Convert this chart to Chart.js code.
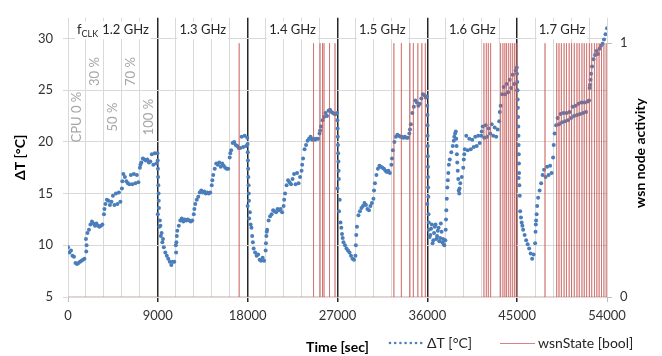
<!DOCTYPE html>
<html lang="en">
<head>
<meta charset="UTF-8">
<title>ΔT and wsn node activity</title>
<script src="https://cdn.jsdelivr.net/npm/chart.js"></script>
<style>
  html, body { margin: 0; padding: 0; background: #fff; }
</style>
</head>
<body>
<canvas id="tempChart" width="662" height="356"></canvas>
<script>
// ΔT [°C], one reading every 150 s (0 ... 54000 s)
const sampleStep = 150;
const deltaT = [
  // 1.2 GHz
  9.8, 9.3, 9.5, 9.0, 8.9, 8.3, 8.2, 8.3, 8.4, 8.5, 8.6, 8.7,
  10.6, 11.2, 11.5, 12.0, 12.3, 12.1, 11.9, 12.1, 11.9, 11.8, 11.9, 12.0,
  13.0, 14.0, 14.4, 14.3, 13.9, 14.2, 14.8, 13.9, 15.0, 14.0, 15.1, 14.2,
  15.5, 16.9, 16.6, 16.2, 16.0, 15.9, 16.8, 15.9, 16.9, 16.0, 16.8, 16.1,
  17.5, 18.0, 18.4, 18.3, 18.2, 18.3, 18.0, 18.1, 18.8, 17.8, 18.9, 17.9,
  // 1.3 GHz
  13.0, 11.8, 10.9, 10.3, 9.8, 9.3, 9.0, 8.7, 8.4, 8.1, 8.4, 8.4,
  10.0, 11.4, 11.9, 12.4, 12.6, 12.3, 12.5, 12.4, 12.5, 12.4, 12.3, 12.4,
  13.0, 14.0, 14.4, 14.7, 15.1, 15.3, 15.1, 15.2, 15.0, 15.1, 15.0, 15.1,
  15.8, 16.8, 17.4, 17.9, 17.8, 18.0, 17.6, 17.9, 17.7, 17.5, 17.4, 17.4,
  18.5, 19.2, 19.9, 20.0, 19.7, 19.6, 19.4, 19.4, 20.5, 19.5, 20.6, 19.6,
  // 1.4 GHz
  13.8, 12.6, 12.0, 10.9, 9.7, 9.3, 9.0, 9.1, 8.6, 8.5, 8.8, 8.5,
  9.5, 11.5, 12.4, 12.8, 13.0, 13.4, 13.3, 13.2, 13.5, 13.4, 13.5, 13.2,
  13.8, 15.0, 15.8, 16.3, 16.1, 15.9, 16.4, 16.9, 15.9, 17.0, 16.0, 16.6,
  17.2, 18.4, 19.3, 19.7, 20.1, 20.3, 20.5, 20.2, 20.3, 20.2, 20.3, 20.3,
  20.8, 21.5, 22.1, 22.4, 22.8, 22.5, 23.0, 23.1, 22.9, 22.8, 22.7, 22.7,
  // 1.5 GHz
  15.5, 13.3, 12.2, 11.1, 10.3, 10.0, 9.7, 9.5, 9.3, 9.0, 8.7, 8.6,
  9.0, 11.8, 12.9, 13.3, 13.6, 13.8, 14.1, 13.9, 13.5, 13.4, 13.8, 14.1,
  14.5, 16.0, 16.8, 17.4, 17.7, 17.6, 17.5, 17.4, 17.2, 17.1, 17.2, 17.0,
  17.8, 19.2, 20.0, 20.5, 20.7, 20.6, 20.5, 20.5, 20.4, 20.5, 20.4, 20.4,
  20.8, 21.7, 22.8, 23.4, 24.0, 23.8, 23.5, 23.7, 24.2, 24.6, 24.5, 24.3,
  // 1.6 GHz
  14.0, 11.5, 11.0, 12.0, 10.5, 11.8, 10.6, 11.4, 10.4, 12.1, 10.3, 10.1,
  10.5, 14.5, 17.0, 18.3, 19.0, 19.6, 20.5, 21.0, 18.0, 15.3, 16.0, 16.6,
  17.5, 19.3, 20.6, 19.2, 20.3, 19.3, 20.2, 19.5, 20.5, 19.6, 20.6, 19.9,
  20.6, 21.5, 20.4, 21.6, 20.5, 21.3, 20.8, 21.7, 20.6, 21.4, 20.5, 21.2,
  22.0, 23.5, 24.6, 25.3, 24.6, 25.6, 24.8, 26.0, 25.2, 26.5, 25.6, 26.9,
  // 1.7 GHz
  25.0, 16.5, 13.3, 12.2, 11.5, 11.0, 10.5, 10.1, 9.7, 9.2, 8.7, 9.1,
  10.2, 13.0, 14.6, 15.3, 16.0, 16.8, 17.3, 16.6, 17.6, 16.8, 17.7, 17.0,
  18.5, 20.8, 21.6, 22.3, 21.7, 22.7, 21.9, 22.8, 22.0, 22.8, 22.1, 22.9,
  22.3, 23.4, 22.5, 23.5, 22.6, 23.7, 22.7, 23.8, 22.8, 23.8, 22.9, 23.9,
  24.0, 26.0, 27.3, 28.0, 28.4, 28.8, 28.5, 29.0, 29.3, 29.5, 29.9, 30.4,
  31.0
];

// extra readings on the steep edges and in the noisy bands
const edgeTime = [
  8960, 8990, 9010, 9030, 9050, 9070, 9090, 9110, 9200, 9260, 9380, 9520,
  17960, 17990, 18010, 18030, 18050, 18070, 18090, 18110, 18130, 18220, 18380, 18520,
  26960, 26990, 27010, 27030, 27050, 27070, 27090, 27110, 27130, 27220, 27380, 27520,
  35960, 35990, 36010, 36020, 36030, 36040, 36050, 36060, 36070, 36080, 36100, 36120, 36140,
  44960, 44980, 45010, 45030, 45050, 45070, 45090, 45110, 45130, 45145, 45160, 45175, 45190, 45220, 45260, 45380, 45520,
  1830, 1860, 3650, 5440, 7260, 10830, 10860, 10900, 12660, 14460, 16260,
  19830, 19870, 19910, 21660, 23460, 25260, 28840, 28880, 30660, 32460, 34260,
  37840, 37870, 37900, 38000, 38050, 38160, 38650, 38780, 38900, 38930, 38960, 39050, 39100, 39200, 39230,
  39650, 39700, 41450, 43260,
  36225, 36375, 36525, 36675, 36825, 36975, 37125, 37275, 37425, 37575, 37700,
  46840, 46870, 46900, 47000, 48660, 52260, 52290, 52400
];
const edgeT = [
  18.9, 18.2, 17.4, 16.6, 15.8, 15.0, 14.3, 13.6, 12.4, 11.9, 11.2, 10.6,
  20.4, 19.8, 19.0, 18.2, 17.4, 16.6, 15.8, 15.0, 14.3, 13.2, 11.7, 10.3,
  22.8, 22.1, 21.3, 20.5, 19.7, 18.9, 18.1, 17.2, 16.4, 14.4, 11.7, 10.7,
  24.4, 23.5, 22.6, 21.6, 20.6, 19.6, 18.6, 17.6, 16.6, 15.6, 14.7, 13.0, 12.2,
  27.2, 26.6, 25.8, 25.0, 24.1, 23.3, 22.4, 21.5, 20.6, 19.7, 18.8, 17.9, 17.0, 15.8, 14.8, 12.7, 11.9,
  9.4, 10.0, 13.5, 16.2, 17.8, 9.3, 10.3, 10.9, 13.5, 16.3, 18.9,
  10.2, 10.9, 11.3, 14.4, 17.8, 21.1, 10.0, 11.0, 15.3, 18.4, 21.2,
  11.5, 12.5, 13.4, 15.6, 16.3, 17.8, 20.1, 20.8, 20.3, 19.6, 18.8, 17.2, 16.4, 15.0, 15.5,
  18.3, 18.8, 21.0, 22.9,
  10.8, 11.6, 10.2, 11.2, 12.0, 10.9, 11.7, 10.7, 11.3, 10.6, 10.0,
  11.3, 12.0, 12.4, 13.8, 19.7, 25.2, 25.5, 26.6
];

// moments when the wsn node was active (s)
const wsnOnTimes = [
  17150,
  24600, 25250, 25500, 25650, 26200, 26750,
  32650, 33400, 34250, 34600, 35050, 35450, 35800,
  41670, 41910, 42110, 42340, 43340, 43570, 43770, 43940, 44150, 44350, 44550, 44750, 44920,
  47790, 48960, 49190, 49430, 49700, 49940, 50210, 50450, 50720, 50990, 51220, 51490,
  51720, 51960, 52230, 52470, 52740, 52980, 53210, 53450, 53690, 53920
];

const freqLabels = ['1.2 GHz', '1.3 GHz', '1.4 GHz', '1.5 GHz', '1.6 GHz', '1.7 GHz'];
const cpuLabels = ['CPU 0 %', '30 %', '50 %', '70 %', '100 %'];
const timeTicks = [0, 9000, 18000, 27000, 36000, 45000, 54000];
const tempTicks = [5, 10, 15, 20, 25, 30];
const activityTicks = [0, 1];

const periodLen = 9000;
const loadStep = 1800;
const FONT = 'Lato, "Open Sans", sans-serif';
const BLUE = '#4a7ebb';
const RED = 'rgba(200, 90, 87, 0.75)';
const GRID = '#d9d9d9';
const DARK = '#262626';

const tempPoints = deltaT.map((v, i) => ({ x: i * sampleStep, y: v }));
edgeTime.forEach((t, i) => tempPoints.push({ x: t, y: edgeT[i] }));

const wsnPoints = [{ x: 0, y: 0 }];
wsnOnTimes.forEach(t => {
  wsnPoints.push({ x: t, y: 0 }, { x: t, y: 1 }, { x: t, y: 0 });
});
wsnPoints.push({ x: 54000, y: 0 });

const gridTimes = [];
for (let t = 0; t <= 54000; t += loadStep) gridTimes.push(t);
const isInnerEdge = v => v % periodLen === 0 && v > 0 && v < 54000;

// free text: frequency headers, CPU load labels, right title, legend
const notes = {
  id: 'notes',
  afterDatasetsDraw(chart) {
    const c = chart.ctx;
    const xs = chart.scales.x;
    const yt = chart.scales.yTemp;
    c.save();

    // frequency headers
    const fy = yt.getPixelForValue(30.8);
    freqLabels.forEach((lab, i) => {
      const cx = xs.getPixelForValue(i * periodLen + periodLen / 2);
      c.font = '13px ' + FONT;
      const w = c.measureText(lab).width;
      let pre = 0, subW = 0, fW = 0;
      if (i === 0) {
        fW = c.measureText('f').width;
        c.font = '9px ' + FONT;
        subW = c.measureText('CLK').width;
        pre = fW + subW + 4;
      }
      const total = pre + w;
      let x0 = cx - total / 2;
      c.fillStyle = '#fff';
      c.fillRect(x0 - 2, fy - 9, total + 4, 18);
      c.fillStyle = DARK;
      c.textBaseline = 'middle';
      c.textAlign = 'left';
      if (i === 0) {
        c.font = '13px ' + FONT;
        c.fillText('f', x0, fy);
        c.font = '9px ' + FONT;
        c.fillText('CLK', x0 + fW, fy + 4);
        x0 += pre;
      }
      c.font = '13px ' + FONT;
      c.fillText(lab, x0, fy);
    });

    // CPU load labels in the first period
    c.fillStyle = '#a6a6a6';
    c.font = '13px ' + FONT;
    c.textAlign = 'center';
    cpuLabels.forEach((lab, i) => {
      const cx = xs.getPixelForValue(i * loadStep + loadStep / 2);
      const cy = yt.getPixelForValue(i % 2 === 0 ? 22.4 : 26.8);
      c.save();
      c.translate(cx, cy);
      c.rotate(-Math.PI / 2);
      c.fillText(lab, 0, 0);
      c.restore();
    });

    // right axis title, reading upwards
    c.fillStyle = '#000';
    c.font = 'bold 14px ' + FONT;
    c.save();
    c.translate(640, 153);
    c.rotate(-Math.PI / 2);
    c.fillText('wsn node activity', 0, 0);
    c.restore();

    // legend
    const ly = 343;
    c.fillStyle = BLUE;
    for (let k = 0; k < 7; k++) {
      c.beginPath();
      c.arc(390 + k * 5.2, ly, 1.3, 0, Math.PI * 2);
      c.fill();
    }
    c.strokeStyle = RED;
    c.lineWidth = 1;
    c.beginPath();
    c.moveTo(500, ly + 0.5);
    c.lineTo(535, ly + 0.5);
    c.stroke();
    c.fillStyle = '#262626';
    c.font = '14px ' + FONT;
    c.textAlign = 'left';
    c.textBaseline = 'middle';
    c.fillText('ΔT [°C]', 427, ly);
    c.fillText('wsnState [bool]', 538, ly);
    c.restore();
  }
};

new Chart(document.getElementById('tempChart'), {
  type: 'scatter',
  data: {
    datasets: [
      {
        label: 'wsnState [bool]',
        data: wsnPoints,
        yAxisID: 'yState',
        showLine: true,
        borderColor: RED,
        borderWidth: 0.8,
        pointRadius: 0,
        order: 0
      },
      {
        label: 'ΔT [°C]',
        data: tempPoints,
        yAxisID: 'yTemp',
        pointRadius: 2,
        pointBorderWidth: 0,
        pointBackgroundColor: BLUE,
        order: 1
      }
    ]
  },
  options: {
    responsive: false,
    animation: false,
    devicePixelRatio: 1,
    layout: { padding: { left: 12, right: 13, top: 5, bottom: 0 } },
    plugins: { legend: { display: false }, tooltip: { enabled: false } },
    scales: {
      x: {
        type: 'linear',
        min: 0,
        max: 54000,
        afterBuildTicks: s => { s.ticks = gridTimes.map(v => ({ value: v })); },
        afterFit: s => { s.height = 59; },
        ticks: {
          autoSkip: false,
          maxRotation: 0,
          padding: 6,
          color: '#333',
          font: { family: FONT, size: 13 },
          callback: v => timeTicks.includes(v) ? String(v) : ''
        },
        grid: {
          color: c => isInnerEdge(c.tick.value) ? DARK : GRID,
          lineWidth: c => isInnerEdge(c.tick.value) ? 1.5 : 1,
          tickLength: 5,
          tickColor: c => timeTicks.includes(c.tick.value)
            ? (isInnerEdge(c.tick.value) ? DARK : '#bfbfbf') : 'rgba(0,0,0,0)'
        },
        border: { display: false },
        title: {
          display: true,
          text: 'Time [sec]',
          color: '#000',
          padding: 0,
          font: { family: FONT, size: 14, weight: 'bold' }
        }
      },
      yTemp: {
        type: 'linear',
        position: 'left',
        min: 5,
        max: 32,
        afterBuildTicks: s => { s.ticks = tempTicks.map(v => ({ value: v })); },
        afterFit: s => { s.width = 56; },
        ticks: { padding: 10, color: '#333', font: { family: FONT, size: 13 } },
        grid: { color: GRID, tickLength: 5 },
        border: { display: false },
        title: {
          display: true,
          text: 'ΔT [°C]',
          color: '#000',
          padding: 0,
          font: { family: FONT, size: 14, weight: 'bold' }
        }
      },
      yState: {
        type: 'linear',
        position: 'right',
        min: 0,
        max: 1.1,
        afterBuildTicks: s => { s.ticks = activityTicks.map(v => ({ value: v })); },
        afterFit: s => { s.width = 42; },
        ticks: { padding: 8, color: '#333', font: { family: FONT, size: 13 } },
        grid: { drawOnChartArea: false, color: '#bfbfbf', tickLength: 5 },
        border: { display: false }
      }
    }
  },
  plugins: [notes]
});
</script>
</body>
</html>
